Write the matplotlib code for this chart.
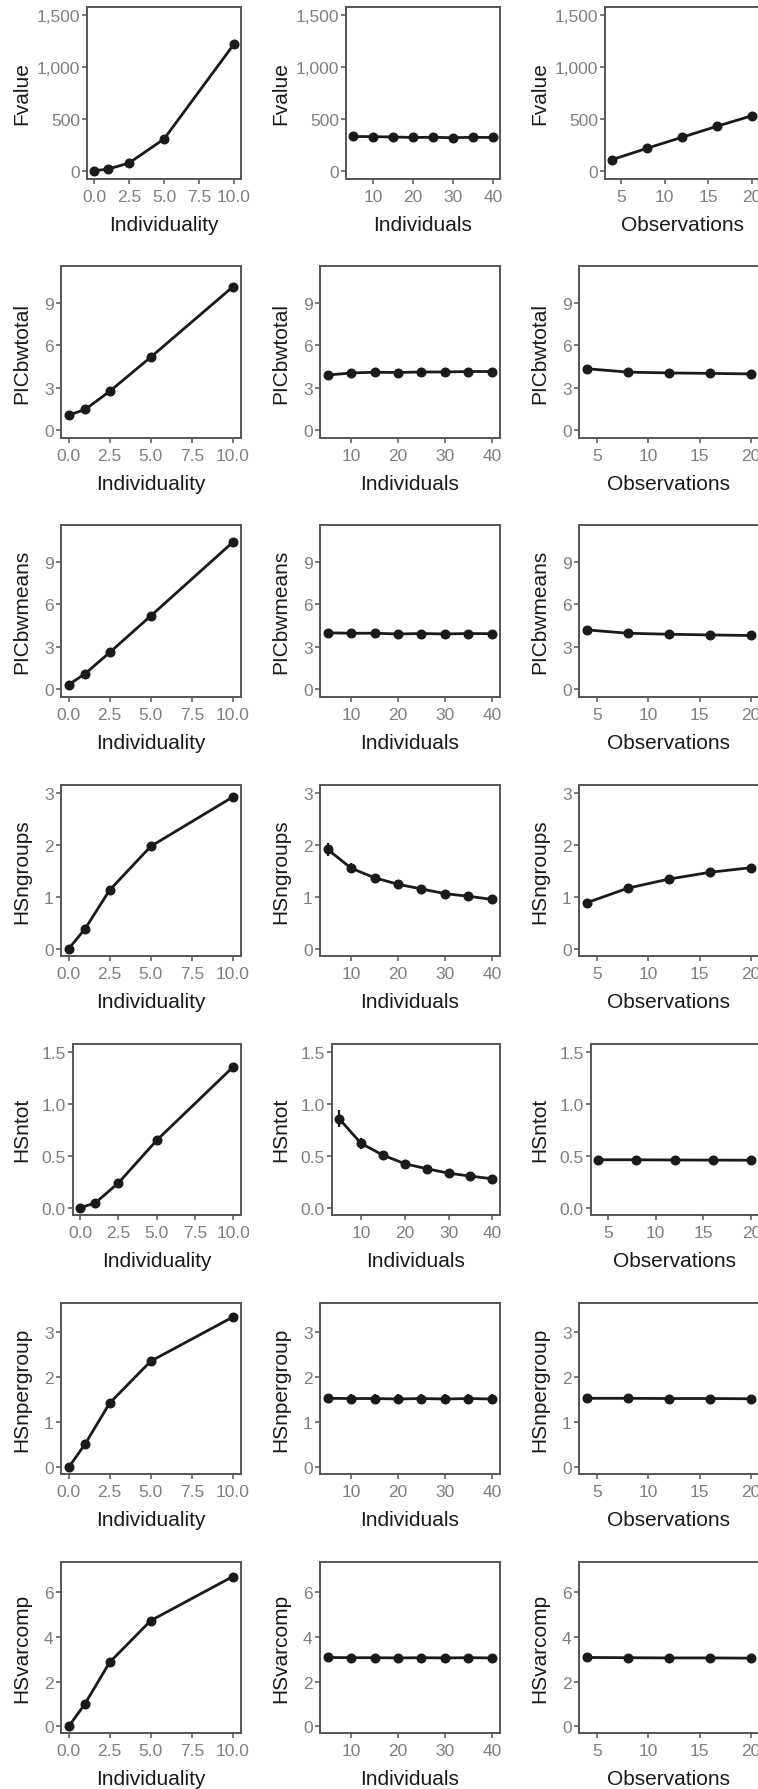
import matplotlib.pyplot as plt
from matplotlib.ticker import FixedLocator, FixedFormatter

plt.rcParams['font.family'] = ['Liberation Sans', 'DejaVu Sans']

# x values of the three designs
individuality = [0, 1, 2.5, 5, 10]
individuals = [5, 10, 15, 20, 25, 30, 35, 40]
observations = [4, 8, 12, 16, 20]

metrics = ['Fvalue', 'PICbwtotal', 'PICbwmeans', 'HSngroups', 'HSntot', 'HSnpergroup', 'HSvarcomp']

# means (a = Individuality, b = Individuals, c = Observations)
fvalue_a = [0, 15, 74, 305, 1220]
fvalue_b = [330, 328, 325, 320, 322, 318, 322, 320]
fvalue_c = [106, 216, 322, 428, 530]
picbwtotal_a = [1.06, 1.46, 2.75, 5.17, 10.15]
picbwtotal_b = [3.90, 4.05, 4.10, 4.08, 4.12, 4.12, 4.15, 4.15]
picbwtotal_c = [4.35, 4.11, 4.05, 4.02, 3.98]
picbwmeans_a = [0.30, 1.08, 2.59, 5.18, 10.41]
picbwmeans_b = [3.98, 3.95, 3.95, 3.90, 3.93, 3.90, 3.93, 3.92]
picbwmeans_c = [4.19, 3.95, 3.88, 3.83, 3.79]
hsngroups_a = [0.0, 0.385, 1.13, 1.97, 2.92]
hsngroups_b = [1.91, 1.55, 1.365, 1.24, 1.15, 1.06, 1.01, 0.95]
hsngroups_c = [0.885, 1.165, 1.34, 1.47, 1.56]
hsntot_a = [0.0, 0.048, 0.24, 0.65, 1.358]
hsntot_b = [0.857, 0.62, 0.507, 0.424, 0.376, 0.333, 0.305, 0.279]
hsntot_c = [0.462, 0.462, 0.460, 0.459, 0.458]
hsnpergroup_a = [0.0, 0.52, 1.43, 2.36, 3.34]
hsnpergroup_b = [1.535, 1.53, 1.53, 1.52, 1.53, 1.52, 1.53, 1.52]
hsnpergroup_c = [1.535, 1.535, 1.53, 1.53, 1.525]
hsvarcomp_a = [0.0, 1.02, 2.86, 4.71, 6.67]
hsvarcomp_b = [3.07, 3.06, 3.06, 3.05, 3.06, 3.05, 3.06, 3.05]
hsvarcomp_c = [3.07, 3.06, 3.05, 3.05, 3.04]

# half widths of the error bars
fvalue_err = ([4, 5, 8, 12, 25], [15] * 8, [8, 12, 15, 25, 35])
picbwtotal_err = ([0.12] * 5, [0.25] * 8, [0.15] * 5)
picbwmeans_err = ([0.12] * 5, [0.25] * 8, [0.15] * 5)
hsngroups_err = ([0.04] * 5, [0.12, 0.1, 0.08, 0.07, 0.06, 0.05, 0.05, 0.05], [0.05] * 5)
hsntot_err = ([0.02] * 5, [0.08, 0.05, 0.04, 0.03, 0.03, 0.02, 0.02, 0.02], [0.02] * 5)
hsnpergroup_err = ([0.05] * 5, [0.1] * 8, [0.05] * 5)
hsvarcomp_err = ([0.1] * 5, [0.15] * 8, [0.1] * 5)

means = [
    (fvalue_a, fvalue_b, fvalue_c),
    (picbwtotal_a, picbwtotal_b, picbwtotal_c),
    (picbwmeans_a, picbwmeans_b, picbwmeans_c),
    (hsngroups_a, hsngroups_b, hsngroups_c),
    (hsntot_a, hsntot_b, hsntot_c),
    (hsnpergroup_a, hsnpergroup_b, hsnpergroup_c),
    (hsvarcomp_a, hsvarcomp_b, hsvarcomp_c),
]
errs = [fvalue_err, picbwtotal_err, picbwmeans_err, hsngroups_err,
        hsntot_err, hsnpergroup_err, hsvarcomp_err]

y_ticks = [[0, 500, 1000, 1500], [0, 3, 6, 9], [0, 3, 6, 9], [0, 1, 2, 3],
           [0, 0.5, 1.0, 1.5], [0, 1, 2, 3], [0, 2, 4, 6]]
y_ticklabels = [['0', '500', '1,000', '1,500'], ['0', '3', '6', '9'], ['0', '3', '6', '9'],
                ['0', '1', '2', '3'], ['0.0', '0.5', '1.0', '1.5'], ['0', '1', '2', '3'],
                ['0', '2', '4', '6']]
y_lims = [(-78, 1574), (-0.55, 11.6), (-0.57, 11.6), (-0.14, 3.16),
          (-0.07, 1.58), (-0.15, 3.66), (-0.3, 7.33)]

xs = [individuality, individuals, observations]
x_names = ['Individuality', 'Individuals', 'Observations']
x_ticks = [[0, 2.5, 5, 7.5, 10], [10, 20, 30, 40], [5, 10, 15, 20]]
x_ticklabels = [['0.0', '2.5', '5.0', '7.5', '10.0'], ['10', '20', '30', '40'], ['5', '10', '15', '20']]
x_lims = [(-0.5, 10.5), (3.25, 41.75), (3.2, 20.8)]

W, H = 758, 1790
fig = plt.figure(figsize=(W / 100, H / 100), dpi=100)

# panel geometry in pixels
row_step = 259.07
panel_h = 171.5
col_step = 259
rights = [241, 500, 759]
lefts = [87, 60.5, 60.5, 60.5, 72.5, 60.5, 60.5]

frame_col = '#555555'
ink = '#1a1a1a'

for r in range(7):
    top = 8.3 + row_step * r
    for c in range(3):
        left = lefts[r] + col_step * c
        width = rights[c] - left
        ax = fig.add_axes([left / W, 1 - (top + panel_h) / H, width / W, panel_h / H])
        ax.errorbar(xs[c], means[r][c], yerr=errs[r][c], fmt='-o', color=ink,
                    ms=6.2, lw=2, elinewidth=1.6, capsize=0, zorder=3)
        ax.set_xlim(x_lims[c])
        ax.set_ylim(y_lims[r])
        ax.xaxis.set_major_locator(FixedLocator(x_ticks[c]))
        ax.xaxis.set_major_formatter(FixedFormatter(x_ticklabels[c]))
        ax.yaxis.set_major_locator(FixedLocator(y_ticks[r]))
        ax.yaxis.set_major_formatter(FixedFormatter(y_ticklabels[r]))
        for s in ax.spines.values():
            s.set_color(frame_col)
            s.set_linewidth(1.4)
        ax.tick_params(axis='both', colors=frame_col, length=3.5, width=1.1)
        ax.tick_params(axis='x', labelsize=12.5, labelcolor='#7f7f7f', pad=3.5)
        ax.tick_params(axis='y', labelsize=12.5, labelcolor='#7f7f7f', pad=1.5)
        ax.set_xlabel(x_names[c], fontsize=15, color=ink)
        ax.set_ylabel(metrics[r], fontsize=15, color=ink)
        ax.xaxis.set_label_coords(0.5, -36 / panel_h)
        ax.xaxis.label.set_va('top')
        ax.yaxis.set_label_coords((31 + col_step * c - left) / width, 0.5)

fig.savefig('out.png', dpi=100)
